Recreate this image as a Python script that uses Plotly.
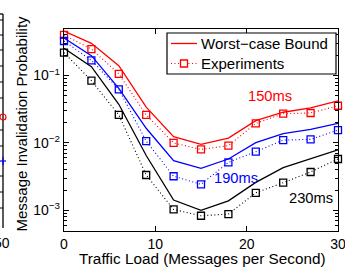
import plotly.graph_objects as go

# ---- data ----
traffic_load = [0, 3, 6, 9, 12, 15, 18, 21, 24, 27, 30]

bound_150 = [0.457, 0.30, 0.14, 0.034, 0.0124, 0.0095, 0.0118, 0.0214, 0.0285, 0.033, 0.042]
exp_150 = [0.40, 0.247, 0.106, 0.026, 0.0100, 0.0080, 0.0091, 0.0195, 0.0271, 0.0278, 0.0356]
bound_190 = [0.36, 0.197, 0.0646, 0.0165, 0.00545, 0.0042, 0.00577, 0.0101, 0.0137, 0.0159, 0.0195]
exp_190 = [0.325, 0.168, 0.0624, 0.0106, 0.0032, 0.00243, 0.00515, 0.0074, 0.011, 0.0113, 0.0155]
bound_230 = [0.254, 0.135, 0.0374, 0.0065, 0.00142, 0.0010, 0.00138, 0.0026, 0.0043, 0.0059, 0.0079]
exp_230 = [0.218, 0.0837, 0.026, 0.00334, 0.00103, 0.00083, 0.00088, 0.00182, 0.00257, 0.0037, 0.00577]

x_ticks = [0, 10, 20, 30]
y_ticks = [1e-3, 1e-2, 1e-1]
y_ticktext = ["10<sup>\u22123</sup>", "10<sup>\u22122</sup>", "10<sup>\u22121</sup>"]

labels = ["150ms", "190ms", "230ms"]
legend_labels = ["Worst\u2212case Bound", "Experiments"]
colors = ["#ff0000", "#0000ff", "#000000"]

FONT = "Liberation Sans, Arial, Helvetica, sans-serif"
W, H = 345, 271
ML, MR, MT, MB = 64, 7, 29, 40
PW, PH = W - ML - MR, H - MT - MB


def px(x):  # pixel -> paper x
    return (x - ML) / PW


def py(y):  # pixel -> paper y
    return (H - MB - y) / PH


fig = go.Figure()
series = [(bound_150, exp_150), (bound_190, exp_190), (bound_230, exp_230)]
for i, ((b, e), c) in enumerate(zip(series, colors)):
    fig.add_trace(go.Scatter(
        x=traffic_load, y=b, mode="lines",
        line=dict(color=c, width=1.3),
        name=legend_labels[0], showlegend=False, cliponaxis=False))
    fig.add_trace(go.Scatter(
        x=traffic_load, y=e, mode="lines+markers",
        line=dict(color=c, width=1.1, dash="1px,2.5px"),
        marker=dict(symbol="square-open", size=7, color=c, line=dict(width=1.3, color=c)),
        name=legend_labels[1], showlegend=False, cliponaxis=False))

minor_vals = [k * 10 ** e for e in (-4, -3, -2, -1) for k in range(2, 10)]

fig.update_layout(
    template="none",
    width=W, height=H,
    margin=dict(l=ML, r=MR, t=MT, b=MB),
    paper_bgcolor="white", plot_bgcolor="white",
    font=dict(family=FONT, size=14, color="black"),
    showlegend=False,
    xaxis=dict(range=[0, 30], tickvals=x_ticks, ticks="inside", ticklen=5,
               tickcolor="black", showline=True, linecolor="black", linewidth=1.3,
               mirror="ticks", showgrid=False, zeroline=False, automargin=False,
               ticklabeloverflow="allow", tickfont=dict(size=14)),
    yaxis=dict(type="log", range=[-3.307, -0.31], tickvals=y_ticks, ticktext=y_ticktext,
               ticks="inside", ticklen=5, tickcolor="black", showline=True,
               linecolor="black", linewidth=1.3, mirror="ticks", showgrid=False,
               zeroline=False, automargin=False, tickfont=dict(size=14),
               ticklabeloverflow="allow",
               minor=dict(tickvals=minor_vals, ticks="inside", ticklen=3,
                          tickcolor="black", showgrid=False)),
)

# axis titles as annotations
fig.add_annotation(text="Traffic Load (Messages per Second)", xref="paper", yref="paper",
                   x=px(202.5), y=py(258), xanchor="center", yanchor="middle",
                   showarrow=False, font=dict(size=15.3))
fig.add_annotation(text="Message Invalidation Probability", xref="paper", yref="paper",
                   x=px(21), y=py(123.5), xanchor="center", yanchor="middle", textangle=-90,
                   showarrow=False, font=dict(size=15))

# legend box (drawn manually to match the original framing)
fig.add_shape(type="rect", xref="paper", yref="paper", x0=px(167), x1=px(336),
              y0=py(74), y1=py(33), line=dict(color="black", width=1.2), fillcolor="white",
              layer="above")
fig.add_shape(type="line", xref="paper", yref="paper", x0=px(171), x1=px(197),
              y0=py(43.5), y1=py(43.5), line=dict(color=colors[0], width=1.3), layer="above")
fig.add_shape(type="line", xref="paper", yref="paper", x0=px(171), x1=px(197),
              y0=py(63.5), y1=py(63.5), line=dict(color=colors[0], width=1.1, dash="1px,2.5px"),
              layer="above")
fig.add_shape(type="rect", xref="paper", yref="paper", x0=px(180.5), x1=px(187.5),
              y0=py(67), y1=py(60), line=dict(color=colors[0], width=1.3), fillcolor="white",
              layer="above")
for t, yy in zip(legend_labels, (43.5, 63.5)):
    fig.add_annotation(text=t, xref="paper", yref="paper", x=px(200), y=py(yy),
                       xanchor="left", yanchor="middle", showarrow=False,
                       font=dict(size=15), borderpad=0)

# series labels and ellipses
label_pos = [(22.5, -1.304), (18.84, -2.52), (27.04, -2.817)]
for (lx, ly), t, c in zip(label_pos, labels, colors):
    fig.add_annotation(text=t, x=lx, y=ly, xref="x", yref="y", showarrow=False,
                       font=dict(size=14.7, color=c), xanchor="center", yanchor="middle")

ellipses = [(22.07, 23.27, -1.823, -1.4525), (15.21, 16.49, -2.6, -2.205), (24.5, 25.71, -2.6, -2.254)]
for x0, x1, y0, y1 in ellipses:
    fig.add_shape(type="circle", xref="x", yref="y", x0=x0, x1=x1, y0=y0, y1=y1,
                  line=dict(color="black", width=1.1))

# fragment of neighbouring panel on the left edge
fig.add_shape(type="line", xref="paper", yref="paper", x0=px(3), x1=px(3),
              y0=py(228), y1=py(14), line=dict(color="black", width=1.3))
fig.add_shape(type="line", xref="paper", yref="paper", x0=px(0), x1=px(3),
              y0=py(14), y1=py(14), line=dict(color="black", width=1.3))
for yy in [20, 35, 50, 66, 82, 98, 130, 146, 176, 192, 208]:
    fig.add_shape(type="line", xref="paper", yref="paper", x0=px(0), x1=px(3),
                  y0=py(yy), y1=py(yy), line=dict(color="black", width=1))
fig.add_shape(type="circle", xref="paper", yref="paper", x0=px(0), x1=px(6),
              y0=py(120), y1=py(114), line=dict(color="red", width=1.2))
fig.add_shape(type="line", xref="paper", yref="paper", x0=px(0), x1=px(6),
              y0=py(161), y1=py(161), line=dict(color="blue", width=1.2))
fig.add_shape(type="line", xref="paper", yref="paper", x0=px(3), x1=px(3),
              y0=py(165), y1=py(157), line=dict(color="blue", width=1.2))
fig.add_annotation(text="50", xref="paper", yref="paper", x=px(11), y=py(243),
                   xanchor="right", yanchor="middle", showarrow=False, font=dict(size=14),
                   borderpad=0)

fig.write_html("out.html", config={"displayModeBar": False},
               post_script="document.body.style.margin='0';document.body.style.overflow='hidden';")
